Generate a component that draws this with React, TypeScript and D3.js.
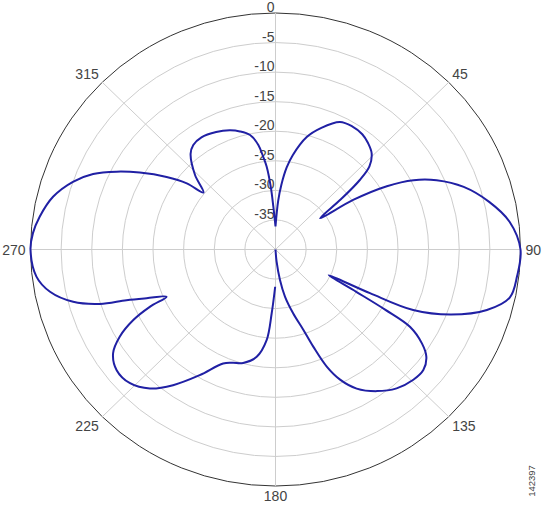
import React from 'react';
import * as d3 from 'd3';

// antenna pattern, angle in degrees (0 = top, clockwise), gain in dB
const angles = [
  0, 3, 5, 7.5, 10, 15, 20, 26, 31, 36, 40, 44, 47.5, 49.5, 51.5, 54,
  56.5, 59.5, 62.5, 66, 71, 77, 83, 90, 96.5, 102, 106.5, 111, 114.5, 115.6, 116.6,
  118.5, 119.6, 120.8, 123.6, 126.4, 130.2, 134.4, 139.9, 145.4, 150.6, 154.4, 157.1, 159.4, 161.5, 165, 169, 171.9, 175, 178,
  180,
  180.5, 183.3, 185.4, 189.6, 195.4, 200, 203.9, 210.2, 216.1, 221.1, 226.4, 231.8, 236.5, 239.9, 242.8, 244.7, 245.8,
  248.6, 250.6, 252.2, 255, 259, 263.3, 270, 274, 278.2, 283.8, 289.1, 293.2, 296.9, 300.4, 304.6, 307.7, 309.3,
  313.8, 319.4, 322.8, 327.5, 334, 339.6, 343.8, 347.9, 351, 352.7, 354.1, 355.8, 357.2, 360,
];
const gains: (number | null)[] = [
  -36.1, -31.8, -29.0, -26.0, -23.8, -20.3, -18.1, -16.0, -15.7, -15.9, -16.5, -17.4, -19.2, -21.9, -26.3, -31.0,
  -24.8, -18.9, -14.6, -11.2, -7.5, -4.2, -1.5, 0, -0.3, -0.9, -4.0, -9.3, -15.3, -22.9, -30.3,
  -25.0, -19.5, -14.4, -11.3, -9.4, -8.4, -8.5, -9.3, -10.9, -13.0, -15.6, -18.5, -22.4, -25.7, -28.8, -31.9, -34.8, -38, -40,
  null,
  -33.7, -29.2, -24.6, -21.6, -20.1, -19.6, -18.9, -15.4, -11.6, -8.8, -7.2, -7.0, -8.2, -10.6, -13.9, -17.3, -20.5,
  -17.4, -14.2, -9.9, -5.8, -2.5, -0.7, 0, -0.3, -1.1, -2.6, -5.0, -7.6, -10.9, -14.3, -18.4, -21.7, -24.8,
  -21.8, -18.7, -17.8, -17.5, -17.9, -18.5, -19.2, -20.2, -22.1, -24.2, -25.9, -29.3, -32.7, -36.1,
];

const ringLevels = [-35, -30, -25, -20, -15, -10, -5, 0];
const spokeAngles = [0, 45, 90, 135, 180, 225, 270, 315];
const angleLabels = ['', '45', '90', '135', '180', '225', '270', '315'];
const figureId = '142397';

const W = 550;
const H = 506;
const cx = 275.5;
const cy = 249.5;
const rx = 245;
const ry = 236.5;

const rScale = d3.scaleLinear().domain([-40, 0]).range([0, 1]).clamp(true);
const rad = (deg: number) => (deg * Math.PI) / 180;
const px = (deg: number, r: number) => cx + rx * r * Math.sin(rad(deg));
const py = (deg: number, r: number) => cy - ry * r * Math.cos(rad(deg));

type Pt = { a: number; g: number | null };
const data: Pt[] = angles.map((a, i) => ({ a, g: gains[i] }));

const line = d3
  .line<Pt>()
  .defined((d) => d.g !== null)
  .x((d) => px(d.a, rScale(d.g as number)))
  .y((d) => py(d.a, rScale(d.g as number)))
  .curve(d3.curveCatmullRom.alpha(0.5));

const font = 'Liberation Sans, Arial, sans-serif';

export default function App() {
  return (
    <svg
      width={W}
      height={H}
      style={{ position: 'absolute', left: 0, top: 0, background: '#fff' }}
      fontFamily={font}
    >
      {/* rings */}
      {ringLevels.map((lv) => (
        <ellipse
          key={lv}
          cx={cx}
          cy={cy}
          rx={rx * rScale(lv)}
          ry={ry * rScale(lv)}
          fill="none"
          stroke={lv === 0 ? '#333' : '#cdcdcd'}
          strokeWidth={1}
        />
      ))}
      {/* spokes */}
      {spokeAngles.map((a) => (
        <line
          key={a}
          x1={cx}
          y1={cy}
          x2={px(a, 1)}
          y2={py(a, 1)}
          stroke="#cdcdcd"
          strokeWidth={1}
        />
      ))}
      {/* radial labels */}
      {ringLevels.map((lv) => (
        <text
          key={'r' + lv}
          x={cx - 1}
          y={py(0, rScale(lv)) - 1}
          textAnchor="end"
          fontSize={14}
          fill="#444"
        >
          {lv}
        </text>
      ))}
      {/* angle labels */}
      {spokeAngles.map((a, i) => {
        const s = Math.sin(rad(a));
        const c = Math.cos(rad(a));
        const x = px(a, 1) + s * 5;
        const y = py(a, 1) - c * 5;
        const anchor = Math.abs(s) < 0.01 ? 'middle' : s > 0 ? 'start' : 'end';
        const base = Math.abs(c) < 0.01 ? 'central' : c > 0 ? 'alphabetic' : 'hanging';
        return (
          <text
            key={'a' + a}
            x={x}
            y={y}
            textAnchor={anchor}
            dominantBaseline={base}
            fontSize={14}
            fill="#444"
          >
            {angleLabels[i]}
          </text>
        );
      })}
      {/* pattern */}
      <path d={line(data) || ''} fill="none" stroke="#2020a4" strokeWidth={2} strokeLinejoin="round" />
      <text
        transform="translate(535,481) rotate(-90)"
        textAnchor="middle"
        fontSize={9.5}
        fill="#444"
      >
        {figureId}
      </text>
    </svg>
  );
}
